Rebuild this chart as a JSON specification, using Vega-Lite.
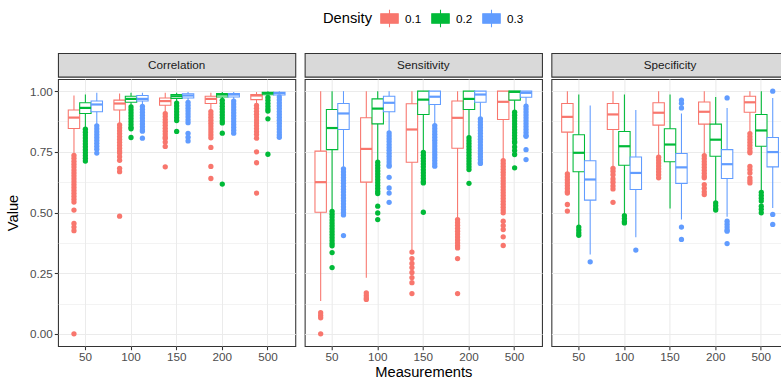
{
"$schema": "https://vega.github.io/schema/vega-lite/v6.json",
"padding": {"left": 5, "top": 8, "right": 0, "bottom": 0},
"config": {
  "font": "Liberation Sans",
  "view": {"stroke": "#333333", "strokeWidth": 1.07},
  "axis": {"domain": false, "grid": true, "gridColor": "#ebebeb", "gridWidth": 1.07, "tickColor": "#333333", "tickSize": 3.7, "tickWidth": 1.07, "labelColor": "#4d4d4d", "labelFontSize": 11.7, "labelPadding": 2, "titleFontSize": 14.7, "titleFontWeight": "normal", "titleColor": "#000000", "labelFont": "Liberation Sans", "titleFont": "Liberation Sans"},
  "axisX": {"bandPosition": 0.5, "labelAngle": 0, "titlePadding": 1},
  "axisY": {"titlePadding": 9}
},
"datasets": {
"corrBox": [
{"Measurements":50,"Density":0.1,"lo":0.746,"q1":0.846,"median":0.891,"q3":0.922,"hi":0.982},
{"Measurements":50,"Density":0.2,"lo":0.849,"q1":0.908,"median":0.931,"q3":0.952,"hi":0.986},
{"Measurements":50,"Density":0.3,"lo":0.862,"q1":0.915,"median":0.945,"q3":0.959,"hi":0.993},
{"Measurements":100,"Density":0.1,"lo":0.865,"q1":0.922,"median":0.949,"q3":0.963,"hi":0.99},
{"Measurements":100,"Density":0.2,"lo":0.938,"q1":0.954,"median":0.968,"q3":0.979,"hi":0.993},
{"Measurements":100,"Density":0.3,"lo":0.945,"q1":0.959,"median":0.968,"q3":0.982,"hi":0.993},
{"Measurements":150,"Density":0.1,"lo":0.911,"q1":0.942,"median":0.959,"q3":0.972,"hi":0.993},
{"Measurements":150,"Density":0.2,"lo":0.954,"q1":0.97,"median":0.979,"q3":0.986,"hi":0.993},
{"Measurements":150,"Density":0.3,"lo":0.957,"q1":0.972,"median":0.982,"q3":0.989,"hi":0.996},
{"Measurements":200,"Density":0.1,"lo":0.92,"q1":0.949,"median":0.968,"q3":0.979,"hi":0.993},
{"Measurements":200,"Density":0.2,"lo":0.965,"q1":0.976,"median":0.986,"q3":0.99,"hi":0.996},
{"Measurements":200,"Density":0.3,"lo":0.965,"q1":0.976,"median":0.986,"q3":0.99,"hi":0.996},
{"Measurements":500,"Density":0.1,"lo":0.945,"q1":0.965,"median":0.982,"q3":0.986,"hi":0.996},
{"Measurements":500,"Density":0.2,"lo":0.976,"q1":0.985,"median":0.992,"q3":0.995,"hi":1.0},
{"Measurements":500,"Density":0.3,"lo":0.979,"q1":0.984,"median":0.992,"q3":0.995,"hi":1.0}
],
"sensBox": [
{"Measurements":50,"Density":0.1,"lo":0.135,"q1":0.501,"median":0.625,"q3":0.753,"hi":1.0},
{"Measurements":50,"Density":0.2,"lo":0.512,"q1":0.759,"median":0.848,"q3":0.924,"hi":1.0},
{"Measurements":50,"Density":0.3,"lo":0.688,"q1":0.842,"median":0.908,"q3":0.949,"hi":1.0},
{"Measurements":100,"Density":0.1,"lo":0.231,"q1":0.625,"median":0.762,"q3":0.89,"hi":1.0},
{"Measurements":100,"Density":0.2,"lo":0.712,"q1":0.865,"median":0.928,"q3":0.968,"hi":1.0},
{"Measurements":100,"Density":0.3,"lo":0.831,"q1":0.915,"median":0.952,"q3":0.979,"hi":1.0},
{"Measurements":150,"Density":0.1,"lo":0.345,"q1":0.707,"median":0.842,"q3":0.948,"hi":1.0},
{"Measurements":150,"Density":0.2,"lo":0.753,"q1":0.904,"median":0.965,"q3":1.0,"hi":1.0},
{"Measurements":150,"Density":0.3,"lo":0.863,"q1":0.945,"median":0.977,"q3":1.0,"hi":1.0},
{"Measurements":200,"Density":0.1,"lo":0.478,"q1":0.765,"median":0.89,"q3":0.959,"hi":1.0},
{"Measurements":200,"Density":0.2,"lo":0.812,"q1":0.924,"median":0.968,"q3":1.0,"hi":1.0},
{"Measurements":200,"Density":0.3,"lo":0.89,"q1":0.954,"median":0.986,"q3":1.0,"hi":1.0},
{"Measurements":500,"Density":0.1,"lo":0.718,"q1":0.883,"median":0.956,"q3":1.0,"hi":1.0},
{"Measurements":500,"Density":0.2,"lo":0.917,"q1":0.963,"median":0.997,"q3":1.0,"hi":1.0},
{"Measurements":500,"Density":0.3,"lo":0.941,"q1":0.975,"median":0.993,"q3":1.0,"hi":1.0}
],
"specBox": [
{"Measurements":50,"Density":0.1,"lo":0.663,"q1":0.831,"median":0.894,"q3":0.949,"hi":1.0},
{"Measurements":50,"Density":0.2,"lo":0.444,"q1":0.668,"median":0.746,"q3":0.82,"hi":0.986},
{"Measurements":50,"Density":0.3,"lo":0.327,"q1":0.551,"median":0.636,"q3":0.713,"hi":0.941},
{"Measurements":100,"Density":0.1,"lo":0.686,"q1":0.842,"median":0.904,"q3":0.949,"hi":1.0},
{"Measurements":100,"Density":0.2,"lo":0.492,"q1":0.695,"median":0.773,"q3":0.834,"hi":0.986},
{"Measurements":100,"Density":0.3,"lo":0.398,"q1":0.595,"median":0.663,"q3":0.729,"hi":0.922},
{"Measurements":150,"Density":0.1,"lo":0.732,"q1":0.86,"median":0.911,"q3":0.952,"hi":1.0},
{"Measurements":150,"Density":0.2,"lo":0.516,"q1":0.709,"median":0.78,"q3":0.845,"hi":0.986},
{"Measurements":150,"Density":0.3,"lo":0.471,"q1":0.62,"median":0.686,"q3":0.743,"hi":0.908},
{"Measurements":200,"Density":0.1,"lo":0.737,"q1":0.864,"median":0.915,"q3":0.955,"hi":1.0},
{"Measurements":200,"Density":0.2,"lo":0.542,"q1":0.732,"median":0.8,"q3":0.864,"hi":0.976},
{"Measurements":200,"Density":0.3,"lo":0.482,"q1":0.64,"median":0.699,"q3":0.759,"hi":0.931},
{"Measurements":500,"Density":0.1,"lo":0.828,"q1":0.913,"median":0.954,"q3":0.979,"hi":1.0},
{"Measurements":500,"Density":0.2,"lo":0.588,"q1":0.773,"median":0.838,"q3":0.904,"hi":1.0},
{"Measurements":500,"Density":0.3,"lo":0.519,"q1":0.688,"median":0.749,"q3":0.809,"hi":0.972}
],
"corrOut": [
{"Measurements":50,"Density":0.1,"Value":0.735},{"Measurements":50,"Density":0.1,"Value":0.723},{"Measurements":50,"Density":0.1,"Value":0.711},{"Measurements":50,"Density":0.1,"Value":0.699},{"Measurements":50,"Density":0.1,"Value":0.687},{"Measurements":50,"Density":0.1,"Value":0.675},{"Measurements":50,"Density":0.1,"Value":0.663},{"Measurements":50,"Density":0.1,"Value":0.651},{"Measurements":50,"Density":0.1,"Value":0.639},{"Measurements":50,"Density":0.1,"Value":0.627},{"Measurements":50,"Density":0.1,"Value":0.615},{"Measurements":50,"Density":0.1,"Value":0.603},{"Measurements":50,"Density":0.1,"Value":0.591},{"Measurements":50,"Density":0.1,"Value":0.579},{"Measurements":50,"Density":0.1,"Value":0.567},{"Measurements":50,"Density":0.1,"Value":0.555},{"Measurements":50,"Density":0.1,"Value":0.543},{"Measurements":50,"Density":0.1,"Value":0.51},{"Measurements":50,"Density":0.1,"Value":0.455},{"Measurements":50,"Density":0.1,"Value":0.44},{"Measurements":50,"Density":0.1,"Value":0.425},{"Measurements":50,"Density":0.1,"Value":0.0},
{"Measurements":50,"Density":0.2,"Value":0.843},{"Measurements":50,"Density":0.2,"Value":0.831},{"Measurements":50,"Density":0.2,"Value":0.819},{"Measurements":50,"Density":0.2,"Value":0.807},{"Measurements":50,"Density":0.2,"Value":0.795},{"Measurements":50,"Density":0.2,"Value":0.783},{"Measurements":50,"Density":0.2,"Value":0.771},{"Measurements":50,"Density":0.2,"Value":0.759},{"Measurements":50,"Density":0.2,"Value":0.747},{"Measurements":50,"Density":0.2,"Value":0.735},{"Measurements":50,"Density":0.2,"Value":0.723},{"Measurements":50,"Density":0.2,"Value":0.712},
{"Measurements":50,"Density":0.3,"Value":0.857},{"Measurements":50,"Density":0.3,"Value":0.845},{"Measurements":50,"Density":0.3,"Value":0.833},{"Measurements":50,"Density":0.3,"Value":0.821},{"Measurements":50,"Density":0.3,"Value":0.809},{"Measurements":50,"Density":0.3,"Value":0.797},{"Measurements":50,"Density":0.3,"Value":0.785},{"Measurements":50,"Density":0.3,"Value":0.773},{"Measurements":50,"Density":0.3,"Value":0.761},{"Measurements":50,"Density":0.3,"Value":0.745},
{"Measurements":100,"Density":0.1,"Value":0.861},{"Measurements":100,"Density":0.1,"Value":0.849},{"Measurements":100,"Density":0.1,"Value":0.837},{"Measurements":100,"Density":0.1,"Value":0.825},{"Measurements":100,"Density":0.1,"Value":0.813},{"Measurements":100,"Density":0.1,"Value":0.801},{"Measurements":100,"Density":0.1,"Value":0.789},{"Measurements":100,"Density":0.1,"Value":0.777},{"Measurements":100,"Density":0.1,"Value":0.765},{"Measurements":100,"Density":0.1,"Value":0.753},{"Measurements":100,"Density":0.1,"Value":0.745},{"Measurements":100,"Density":0.1,"Value":0.73},{"Measurements":100,"Density":0.1,"Value":0.715},{"Measurements":100,"Density":0.1,"Value":0.682},{"Measurements":100,"Density":0.1,"Value":0.668},{"Measurements":100,"Density":0.1,"Value":0.485},
{"Measurements":100,"Density":0.2,"Value":0.935},{"Measurements":100,"Density":0.2,"Value":0.923},{"Measurements":100,"Density":0.2,"Value":0.911},{"Measurements":100,"Density":0.2,"Value":0.899},{"Measurements":100,"Density":0.2,"Value":0.887},{"Measurements":100,"Density":0.2,"Value":0.875},{"Measurements":100,"Density":0.2,"Value":0.863},{"Measurements":100,"Density":0.2,"Value":0.851},{"Measurements":100,"Density":0.2,"Value":0.845},{"Measurements":100,"Density":0.2,"Value":0.809},
{"Measurements":100,"Density":0.3,"Value":0.937},{"Measurements":100,"Density":0.3,"Value":0.925},{"Measurements":100,"Density":0.3,"Value":0.913},{"Measurements":100,"Density":0.3,"Value":0.901},{"Measurements":100,"Density":0.3,"Value":0.889},{"Measurements":100,"Density":0.3,"Value":0.877},{"Measurements":100,"Density":0.3,"Value":0.865},{"Measurements":100,"Density":0.3,"Value":0.853},{"Measurements":100,"Density":0.3,"Value":0.841},{"Measurements":100,"Density":0.3,"Value":0.835},{"Measurements":100,"Density":0.3,"Value":0.806},
{"Measurements":150,"Density":0.1,"Value":0.907},{"Measurements":150,"Density":0.1,"Value":0.895},{"Measurements":150,"Density":0.1,"Value":0.883},{"Measurements":150,"Density":0.1,"Value":0.871},{"Measurements":150,"Density":0.1,"Value":0.859},{"Measurements":150,"Density":0.1,"Value":0.847},{"Measurements":150,"Density":0.1,"Value":0.835},{"Measurements":150,"Density":0.1,"Value":0.823},{"Measurements":150,"Density":0.1,"Value":0.811},{"Measurements":150,"Density":0.1,"Value":0.805},{"Measurements":150,"Density":0.1,"Value":0.79},{"Measurements":150,"Density":0.1,"Value":0.772},{"Measurements":150,"Density":0.1,"Value":0.688},
{"Measurements":150,"Density":0.2,"Value":0.951},{"Measurements":150,"Density":0.2,"Value":0.939},{"Measurements":150,"Density":0.2,"Value":0.927},{"Measurements":150,"Density":0.2,"Value":0.915},{"Measurements":150,"Density":0.2,"Value":0.903},{"Measurements":150,"Density":0.2,"Value":0.891},{"Measurements":150,"Density":0.2,"Value":0.879},{"Measurements":150,"Density":0.2,"Value":0.834},
{"Measurements":150,"Density":0.3,"Value":0.954},{"Measurements":150,"Density":0.3,"Value":0.942},{"Measurements":150,"Density":0.3,"Value":0.93},{"Measurements":150,"Density":0.3,"Value":0.918},{"Measurements":150,"Density":0.3,"Value":0.906},{"Measurements":150,"Density":0.3,"Value":0.894},{"Measurements":150,"Density":0.3,"Value":0.882},{"Measurements":150,"Density":0.3,"Value":0.87},{"Measurements":150,"Density":0.3,"Value":0.826},{"Measurements":150,"Density":0.3,"Value":0.81},{"Measurements":150,"Density":0.3,"Value":0.795},
{"Measurements":200,"Density":0.1,"Value":0.916},{"Measurements":200,"Density":0.1,"Value":0.904},{"Measurements":200,"Density":0.1,"Value":0.892},{"Measurements":200,"Density":0.1,"Value":0.88},{"Measurements":200,"Density":0.1,"Value":0.868},{"Measurements":200,"Density":0.1,"Value":0.856},{"Measurements":200,"Density":0.1,"Value":0.844},{"Measurements":200,"Density":0.1,"Value":0.832},{"Measurements":200,"Density":0.1,"Value":0.82},{"Measurements":200,"Density":0.1,"Value":0.808},{"Measurements":200,"Density":0.1,"Value":0.768},{"Measurements":200,"Density":0.1,"Value":0.69},{"Measurements":200,"Density":0.1,"Value":0.64},
{"Measurements":200,"Density":0.2,"Value":0.962},{"Measurements":200,"Density":0.2,"Value":0.95},{"Measurements":200,"Density":0.2,"Value":0.938},{"Measurements":200,"Density":0.2,"Value":0.926},{"Measurements":200,"Density":0.2,"Value":0.914},{"Measurements":200,"Density":0.2,"Value":0.902},{"Measurements":200,"Density":0.2,"Value":0.89},{"Measurements":200,"Density":0.2,"Value":0.878},{"Measurements":200,"Density":0.2,"Value":0.869},{"Measurements":200,"Density":0.2,"Value":0.827},{"Measurements":200,"Density":0.2,"Value":0.617},
{"Measurements":200,"Density":0.3,"Value":0.959},{"Measurements":200,"Density":0.3,"Value":0.947},{"Measurements":200,"Density":0.3,"Value":0.935},{"Measurements":200,"Density":0.3,"Value":0.923},{"Measurements":200,"Density":0.3,"Value":0.911},{"Measurements":200,"Density":0.3,"Value":0.899},{"Measurements":200,"Density":0.3,"Value":0.887},{"Measurements":200,"Density":0.3,"Value":0.875},{"Measurements":200,"Density":0.3,"Value":0.863},{"Measurements":200,"Density":0.3,"Value":0.851},{"Measurements":200,"Density":0.3,"Value":0.839},{"Measurements":200,"Density":0.3,"Value":0.827},
{"Measurements":500,"Density":0.1,"Value":0.941},{"Measurements":500,"Density":0.1,"Value":0.929},{"Measurements":500,"Density":0.1,"Value":0.917},{"Measurements":500,"Density":0.1,"Value":0.905},{"Measurements":500,"Density":0.1,"Value":0.893},{"Measurements":500,"Density":0.1,"Value":0.881},{"Measurements":500,"Density":0.1,"Value":0.869},{"Measurements":500,"Density":0.1,"Value":0.857},{"Measurements":500,"Density":0.1,"Value":0.845},{"Measurements":500,"Density":0.1,"Value":0.833},{"Measurements":500,"Density":0.1,"Value":0.821},{"Measurements":500,"Density":0.1,"Value":0.806},{"Measurements":500,"Density":0.1,"Value":0.75},{"Measurements":500,"Density":0.1,"Value":0.705},{"Measurements":500,"Density":0.1,"Value":0.58},
{"Measurements":500,"Density":0.2,"Value":0.974},{"Measurements":500,"Density":0.2,"Value":0.962},{"Measurements":500,"Density":0.2,"Value":0.95},{"Measurements":500,"Density":0.2,"Value":0.938},{"Measurements":500,"Density":0.2,"Value":0.926},{"Measurements":500,"Density":0.2,"Value":0.918},{"Measurements":500,"Density":0.2,"Value":0.886},{"Measurements":500,"Density":0.2,"Value":0.74},
{"Measurements":500,"Density":0.3,"Value":0.976},{"Measurements":500,"Density":0.3,"Value":0.964},{"Measurements":500,"Density":0.3,"Value":0.952},{"Measurements":500,"Density":0.3,"Value":0.94},{"Measurements":500,"Density":0.3,"Value":0.928},{"Measurements":500,"Density":0.3,"Value":0.916},{"Measurements":500,"Density":0.3,"Value":0.904},{"Measurements":500,"Density":0.3,"Value":0.892},{"Measurements":500,"Density":0.3,"Value":0.88},{"Measurements":500,"Density":0.3,"Value":0.868},{"Measurements":500,"Density":0.3,"Value":0.856},{"Measurements":500,"Density":0.3,"Value":0.844},{"Measurements":500,"Density":0.3,"Value":0.832},{"Measurements":500,"Density":0.3,"Value":0.82},{"Measurements":500,"Density":0.3,"Value":0.81}
],
"sensOut": [
{"Measurements":50,"Density":0.1,"Value":0.087},{"Measurements":50,"Density":0.1,"Value":0.076},{"Measurements":50,"Density":0.1,"Value":0.066},{"Measurements":50,"Density":0.1,"Value":0.0},
{"Measurements":50,"Density":0.2,"Value":0.505},{"Measurements":50,"Density":0.2,"Value":0.493},{"Measurements":50,"Density":0.2,"Value":0.481},{"Measurements":50,"Density":0.2,"Value":0.469},{"Measurements":50,"Density":0.2,"Value":0.457},{"Measurements":50,"Density":0.2,"Value":0.445},{"Measurements":50,"Density":0.2,"Value":0.433},{"Measurements":50,"Density":0.2,"Value":0.421},{"Measurements":50,"Density":0.2,"Value":0.409},{"Measurements":50,"Density":0.2,"Value":0.397},{"Measurements":50,"Density":0.2,"Value":0.385},{"Measurements":50,"Density":0.2,"Value":0.373},{"Measurements":50,"Density":0.2,"Value":0.363},{"Measurements":50,"Density":0.2,"Value":0.335},{"Measurements":50,"Density":0.2,"Value":0.273},
{"Measurements":50,"Density":0.3,"Value":0.68},{"Measurements":50,"Density":0.3,"Value":0.668},{"Measurements":50,"Density":0.3,"Value":0.656},{"Measurements":50,"Density":0.3,"Value":0.644},{"Measurements":50,"Density":0.3,"Value":0.632},{"Measurements":50,"Density":0.3,"Value":0.62},{"Measurements":50,"Density":0.3,"Value":0.608},{"Measurements":50,"Density":0.3,"Value":0.596},{"Measurements":50,"Density":0.3,"Value":0.584},{"Measurements":50,"Density":0.3,"Value":0.572},{"Measurements":50,"Density":0.3,"Value":0.56},{"Measurements":50,"Density":0.3,"Value":0.548},{"Measurements":50,"Density":0.3,"Value":0.536},{"Measurements":50,"Density":0.3,"Value":0.524},{"Measurements":50,"Density":0.3,"Value":0.512},{"Measurements":50,"Density":0.3,"Value":0.5},{"Measurements":50,"Density":0.3,"Value":0.49},{"Measurements":50,"Density":0.3,"Value":0.405},
{"Measurements":100,"Density":0.1,"Value":0.169},{"Measurements":100,"Density":0.1,"Value":0.158},{"Measurements":100,"Density":0.1,"Value":0.148},{"Measurements":100,"Density":0.1,"Value":0.142},
{"Measurements":100,"Density":0.2,"Value":0.707},{"Measurements":100,"Density":0.2,"Value":0.695},{"Measurements":100,"Density":0.2,"Value":0.683},{"Measurements":100,"Density":0.2,"Value":0.671},{"Measurements":100,"Density":0.2,"Value":0.659},{"Measurements":100,"Density":0.2,"Value":0.647},{"Measurements":100,"Density":0.2,"Value":0.635},{"Measurements":100,"Density":0.2,"Value":0.623},{"Measurements":100,"Density":0.2,"Value":0.611},{"Measurements":100,"Density":0.2,"Value":0.599},{"Measurements":100,"Density":0.2,"Value":0.587},{"Measurements":100,"Density":0.2,"Value":0.578},{"Measurements":100,"Density":0.2,"Value":0.526},{"Measurements":100,"Density":0.2,"Value":0.498},{"Measurements":100,"Density":0.2,"Value":0.471},
{"Measurements":100,"Density":0.3,"Value":0.828},{"Measurements":100,"Density":0.3,"Value":0.816},{"Measurements":100,"Density":0.3,"Value":0.804},{"Measurements":100,"Density":0.3,"Value":0.792},{"Measurements":100,"Density":0.3,"Value":0.78},{"Measurements":100,"Density":0.3,"Value":0.768},{"Measurements":100,"Density":0.3,"Value":0.756},{"Measurements":100,"Density":0.3,"Value":0.744},{"Measurements":100,"Density":0.3,"Value":0.732},{"Measurements":100,"Density":0.3,"Value":0.72},{"Measurements":100,"Density":0.3,"Value":0.708},{"Measurements":100,"Density":0.3,"Value":0.696},{"Measurements":100,"Density":0.3,"Value":0.691},{"Measurements":100,"Density":0.3,"Value":0.645},{"Measurements":100,"Density":0.3,"Value":0.601},{"Measurements":100,"Density":0.3,"Value":0.58},{"Measurements":100,"Density":0.3,"Value":0.542},
{"Measurements":150,"Density":0.1,"Value":0.337},{"Measurements":150,"Density":0.1,"Value":0.31},{"Measurements":150,"Density":0.1,"Value":0.29},{"Measurements":150,"Density":0.1,"Value":0.273},{"Measurements":150,"Density":0.1,"Value":0.253},{"Measurements":150,"Density":0.1,"Value":0.232},{"Measurements":150,"Density":0.1,"Value":0.211},{"Measurements":150,"Density":0.1,"Value":0.166},
{"Measurements":150,"Density":0.2,"Value":0.748},{"Measurements":150,"Density":0.2,"Value":0.736},{"Measurements":150,"Density":0.2,"Value":0.724},{"Measurements":150,"Density":0.2,"Value":0.712},{"Measurements":150,"Density":0.2,"Value":0.7},{"Measurements":150,"Density":0.2,"Value":0.688},{"Measurements":150,"Density":0.2,"Value":0.676},{"Measurements":150,"Density":0.2,"Value":0.664},{"Measurements":150,"Density":0.2,"Value":0.652},{"Measurements":150,"Density":0.2,"Value":0.64},{"Measurements":150,"Density":0.2,"Value":0.628},{"Measurements":150,"Density":0.2,"Value":0.622},{"Measurements":150,"Density":0.2,"Value":0.501},
{"Measurements":150,"Density":0.3,"Value":0.858},{"Measurements":150,"Density":0.3,"Value":0.846},{"Measurements":150,"Density":0.3,"Value":0.834},{"Measurements":150,"Density":0.3,"Value":0.822},{"Measurements":150,"Density":0.3,"Value":0.81},{"Measurements":150,"Density":0.3,"Value":0.798},{"Measurements":150,"Density":0.3,"Value":0.786},{"Measurements":150,"Density":0.3,"Value":0.774},{"Measurements":150,"Density":0.3,"Value":0.762},{"Measurements":150,"Density":0.3,"Value":0.75},{"Measurements":150,"Density":0.3,"Value":0.738},{"Measurements":150,"Density":0.3,"Value":0.726},{"Measurements":150,"Density":0.3,"Value":0.714},{"Measurements":150,"Density":0.3,"Value":0.702},{"Measurements":150,"Density":0.3,"Value":0.691},
{"Measurements":200,"Density":0.1,"Value":0.471},{"Measurements":200,"Density":0.1,"Value":0.459},{"Measurements":200,"Density":0.1,"Value":0.447},{"Measurements":200,"Density":0.1,"Value":0.435},{"Measurements":200,"Density":0.1,"Value":0.423},{"Measurements":200,"Density":0.1,"Value":0.411},{"Measurements":200,"Density":0.1,"Value":0.399},{"Measurements":200,"Density":0.1,"Value":0.387},{"Measurements":200,"Density":0.1,"Value":0.375},{"Measurements":200,"Density":0.1,"Value":0.363},{"Measurements":200,"Density":0.1,"Value":0.354},{"Measurements":200,"Density":0.1,"Value":0.31},{"Measurements":200,"Density":0.1,"Value":0.166},
{"Measurements":200,"Density":0.2,"Value":0.808},{"Measurements":200,"Density":0.2,"Value":0.796},{"Measurements":200,"Density":0.2,"Value":0.784},{"Measurements":200,"Density":0.2,"Value":0.772},{"Measurements":200,"Density":0.2,"Value":0.76},{"Measurements":200,"Density":0.2,"Value":0.748},{"Measurements":200,"Density":0.2,"Value":0.736},{"Measurements":200,"Density":0.2,"Value":0.724},{"Measurements":200,"Density":0.2,"Value":0.712},{"Measurements":200,"Density":0.2,"Value":0.7},{"Measurements":200,"Density":0.2,"Value":0.688},{"Measurements":200,"Density":0.2,"Value":0.677},{"Measurements":200,"Density":0.2,"Value":0.62},
{"Measurements":200,"Density":0.3,"Value":0.886},{"Measurements":200,"Density":0.3,"Value":0.874},{"Measurements":200,"Density":0.3,"Value":0.862},{"Measurements":200,"Density":0.3,"Value":0.85},{"Measurements":200,"Density":0.3,"Value":0.838},{"Measurements":200,"Density":0.3,"Value":0.826},{"Measurements":200,"Density":0.3,"Value":0.814},{"Measurements":200,"Density":0.3,"Value":0.802},{"Measurements":200,"Density":0.3,"Value":0.79},{"Measurements":200,"Density":0.3,"Value":0.778},{"Measurements":200,"Density":0.3,"Value":0.766},{"Measurements":200,"Density":0.3,"Value":0.754},{"Measurements":200,"Density":0.3,"Value":0.742},{"Measurements":200,"Density":0.3,"Value":0.73},{"Measurements":200,"Density":0.3,"Value":0.718},{"Measurements":200,"Density":0.3,"Value":0.706},{"Measurements":200,"Density":0.3,"Value":0.702},
{"Measurements":500,"Density":0.1,"Value":0.714},{"Measurements":500,"Density":0.1,"Value":0.702},{"Measurements":500,"Density":0.1,"Value":0.69},{"Measurements":500,"Density":0.1,"Value":0.678},{"Measurements":500,"Density":0.1,"Value":0.666},{"Measurements":500,"Density":0.1,"Value":0.654},{"Measurements":500,"Density":0.1,"Value":0.642},{"Measurements":500,"Density":0.1,"Value":0.63},{"Measurements":500,"Density":0.1,"Value":0.618},{"Measurements":500,"Density":0.1,"Value":0.606},{"Measurements":500,"Density":0.1,"Value":0.594},{"Measurements":500,"Density":0.1,"Value":0.582},{"Measurements":500,"Density":0.1,"Value":0.57},{"Measurements":500,"Density":0.1,"Value":0.558},{"Measurements":500,"Density":0.1,"Value":0.546},{"Measurements":500,"Density":0.1,"Value":0.534},{"Measurements":500,"Density":0.1,"Value":0.522},{"Measurements":500,"Density":0.1,"Value":0.51},{"Measurements":500,"Density":0.1,"Value":0.499},{"Measurements":500,"Density":0.1,"Value":0.464},{"Measurements":500,"Density":0.1,"Value":0.446},{"Measurements":500,"Density":0.1,"Value":0.43},{"Measurements":500,"Density":0.1,"Value":0.4},{"Measurements":500,"Density":0.1,"Value":0.364},
{"Measurements":500,"Density":0.2,"Value":0.913},{"Measurements":500,"Density":0.2,"Value":0.901},{"Measurements":500,"Density":0.2,"Value":0.889},{"Measurements":500,"Density":0.2,"Value":0.877},{"Measurements":500,"Density":0.2,"Value":0.865},{"Measurements":500,"Density":0.2,"Value":0.853},{"Measurements":500,"Density":0.2,"Value":0.841},{"Measurements":500,"Density":0.2,"Value":0.829},{"Measurements":500,"Density":0.2,"Value":0.817},{"Measurements":500,"Density":0.2,"Value":0.805},{"Measurements":500,"Density":0.2,"Value":0.793},{"Measurements":500,"Density":0.2,"Value":0.787},{"Measurements":500,"Density":0.2,"Value":0.77},{"Measurements":500,"Density":0.2,"Value":0.755},{"Measurements":500,"Density":0.2,"Value":0.739},{"Measurements":500,"Density":0.2,"Value":0.684},
{"Measurements":500,"Density":0.3,"Value":0.938},{"Measurements":500,"Density":0.3,"Value":0.926},{"Measurements":500,"Density":0.3,"Value":0.914},{"Measurements":500,"Density":0.3,"Value":0.902},{"Measurements":500,"Density":0.3,"Value":0.89},{"Measurements":500,"Density":0.3,"Value":0.878},{"Measurements":500,"Density":0.3,"Value":0.866},{"Measurements":500,"Density":0.3,"Value":0.854},{"Measurements":500,"Density":0.3,"Value":0.842},{"Measurements":500,"Density":0.3,"Value":0.83},{"Measurements":500,"Density":0.3,"Value":0.818},{"Measurements":500,"Density":0.3,"Value":0.814},{"Measurements":500,"Density":0.3,"Value":0.759},{"Measurements":500,"Density":0.3,"Value":0.718}
],
"specOut": [
{"Measurements":50,"Density":0.1,"Value":0.659},{"Measurements":50,"Density":0.1,"Value":0.647},{"Measurements":50,"Density":0.1,"Value":0.635},{"Measurements":50,"Density":0.1,"Value":0.623},{"Measurements":50,"Density":0.1,"Value":0.611},{"Measurements":50,"Density":0.1,"Value":0.599},{"Measurements":50,"Density":0.1,"Value":0.587},{"Measurements":50,"Density":0.1,"Value":0.58},{"Measurements":50,"Density":0.1,"Value":0.533},{"Measurements":50,"Density":0.1,"Value":0.506},
{"Measurements":50,"Density":0.2,"Value":0.44},{"Measurements":50,"Density":0.2,"Value":0.428},{"Measurements":50,"Density":0.2,"Value":0.416},{"Measurements":50,"Density":0.2,"Value":0.406},
{"Measurements":50,"Density":0.3,"Value":0.297},
{"Measurements":100,"Density":0.1,"Value":0.682},{"Measurements":100,"Density":0.1,"Value":0.67},{"Measurements":100,"Density":0.1,"Value":0.656},{"Measurements":100,"Density":0.1,"Value":0.638},{"Measurements":100,"Density":0.1,"Value":0.625},{"Measurements":100,"Density":0.1,"Value":0.61},{"Measurements":100,"Density":0.1,"Value":0.597},{"Measurements":100,"Density":0.1,"Value":0.542},
{"Measurements":100,"Density":0.2,"Value":0.487},{"Measurements":100,"Density":0.2,"Value":0.475},{"Measurements":100,"Density":0.2,"Value":0.463},{"Measurements":100,"Density":0.2,"Value":0.457},
{"Measurements":100,"Density":0.3,"Value":0.345},
{"Measurements":150,"Density":0.1,"Value":0.728},{"Measurements":150,"Density":0.1,"Value":0.716},{"Measurements":150,"Density":0.1,"Value":0.704},{"Measurements":150,"Density":0.1,"Value":0.692},{"Measurements":150,"Density":0.1,"Value":0.68},{"Measurements":150,"Density":0.1,"Value":0.668},{"Measurements":150,"Density":0.1,"Value":0.656},{"Measurements":150,"Density":0.1,"Value":0.643},
{"Measurements":150,"Density":0.3,"Value":0.963},{"Measurements":150,"Density":0.3,"Value":0.95},{"Measurements":150,"Density":0.3,"Value":0.931},{"Measurements":150,"Density":0.3,"Value":0.44},{"Measurements":150,"Density":0.3,"Value":0.389},
{"Measurements":200,"Density":0.1,"Value":0.734},{"Measurements":200,"Density":0.1,"Value":0.722},{"Measurements":200,"Density":0.1,"Value":0.71},{"Measurements":200,"Density":0.1,"Value":0.698},{"Measurements":200,"Density":0.1,"Value":0.686},{"Measurements":200,"Density":0.1,"Value":0.674},{"Measurements":200,"Density":0.1,"Value":0.662},{"Measurements":200,"Density":0.1,"Value":0.65},{"Measurements":200,"Density":0.1,"Value":0.643},{"Measurements":200,"Density":0.1,"Value":0.615},{"Measurements":200,"Density":0.1,"Value":0.6},{"Measurements":200,"Density":0.1,"Value":0.585},{"Measurements":200,"Density":0.1,"Value":0.574},
{"Measurements":200,"Density":0.2,"Value":0.54},{"Measurements":200,"Density":0.2,"Value":0.528},{"Measurements":200,"Density":0.2,"Value":0.516},{"Measurements":200,"Density":0.2,"Value":0.51},
{"Measurements":200,"Density":0.3,"Value":0.972},{"Measurements":200,"Density":0.3,"Value":0.464},{"Measurements":200,"Density":0.3,"Value":0.452},{"Measurements":200,"Density":0.3,"Value":0.44},{"Measurements":200,"Density":0.3,"Value":0.428},{"Measurements":200,"Density":0.3,"Value":0.423},{"Measurements":200,"Density":0.3,"Value":0.372},
{"Measurements":500,"Density":0.1,"Value":0.825},{"Measurements":500,"Density":0.1,"Value":0.813},{"Measurements":500,"Density":0.1,"Value":0.801},{"Measurements":500,"Density":0.1,"Value":0.789},{"Measurements":500,"Density":0.1,"Value":0.777},{"Measurements":500,"Density":0.1,"Value":0.765},{"Measurements":500,"Density":0.1,"Value":0.753},{"Measurements":500,"Density":0.1,"Value":0.746},{"Measurements":500,"Density":0.1,"Value":0.69},{"Measurements":500,"Density":0.1,"Value":0.677},{"Measurements":500,"Density":0.1,"Value":0.663},{"Measurements":500,"Density":0.1,"Value":0.643},{"Measurements":500,"Density":0.1,"Value":0.632},{"Measurements":500,"Density":0.1,"Value":0.622},
{"Measurements":500,"Density":0.2,"Value":0.583},{"Measurements":500,"Density":0.2,"Value":0.571},{"Measurements":500,"Density":0.2,"Value":0.559},{"Measurements":500,"Density":0.2,"Value":0.547},{"Measurements":500,"Density":0.2,"Value":0.526},{"Measurements":500,"Density":0.2,"Value":0.513},{"Measurements":500,"Density":0.2,"Value":0.499},
{"Measurements":500,"Density":0.3,"Value":1.0},{"Measurements":500,"Density":0.3,"Value":0.492},{"Measurements":500,"Density":0.3,"Value":0.451}
]
},
"spacing": 7.7,
"hconcat": [
 {"spacing": 0, "vconcat": [
  {"width": 237.3, "height": 23.7, "view": {"fill": "#d9d9d9", "stroke": "#333333", "strokeWidth": 1.07},
   "data": {"values": [{"Metric": "Correlation"}]},
   "mark": {"type": "text", "fontSize": 11.7, "color": "#1a1a1a"},
   "encoding": {"text": {"field": "Metric"}}},
  {"width": 237.3, "height": 267,
   "encoding": {
    "x": {"field": "Measurements", "type": "ordinal", "scale": {"domain": [50,100,150,200,500], "paddingInner": 0, "paddingOuter": 0.1}, "axis": {"title": null, "grid": true}},
    "xOffset": {"field": "Density", "type": "nominal", "scale": {"domain": [0.1,0.2,0.3], "paddingInner": 0, "paddingOuter": 0.5}},
    "color": {"field": "Density", "type": "nominal", "scale": {"domain": [0.1,0.2,0.3], "range": ["#F8766D","#00BA38","#619CFF"]},
      "legend": {"orient": "none", "legendX": 265, "legendY": -44.3, "direction": "horizontal", "title": "Density", "titleOrient": "left", "titleFontSize": 14.7, "titleFontWeight": "normal", "titleColor": "#000000", "titlePadding": 8, "labelFontSize": 11.7, "labelColor": "#000000", "labelOffset": 6, "columnPadding": 7, "symbolType": "M0,-1V-0.55M-1,-0.55H1V0.55H-1ZM-1,0H1M0,0.55V1", "symbolSize": 306, "symbolStrokeWidth": 1.07,
        "encode": {"symbols": {"update": {"fill": {"value": "transparent"}, "stroke": {"scale": "color", "field": "value"}}}}}}
   },
   "layer": [
    {"data": {"name": "corrBox"}, "mark": {"type": "rule", "strokeWidth": 1.07},
     "encoding": {"y": {"field": "lo", "type": "quantitative", "scale": {"domain": [-0.05,1.05], "nice": false, "zero": false},
       "axis": {"values": [0,0.125,0.25,0.375,0.5,0.625,0.75,0.875,1], "grid": true, "labelExpr": "datum.value % 0.25 === 0 ? format(datum.value, '.2f') : ''",
         "gridWidth": {"condition": {"test": "datum.value % 0.25 === 0", "value": 1.07}, "value": 0.6},
         "tickOpacity": {"condition": {"test": "datum.value % 0.25 === 0", "value": 1}, "value": 0},
         "title": "Value"}}, "y2": {"field": "hi"}}},
    {"data": {"name": "corrBox"}, "mark": {"type": "bar", "filled": false, "fill": "white", "strokeWidth": 1.07},
     "encoding": {"y": {"field": "q1", "type": "quantitative",
       "axis": {"values": [0,0.125,0.25,0.375,0.5,0.625,0.75,0.875,1], "grid": true, "labelExpr": "datum.value % 0.25 === 0 ? format(datum.value, '.2f') : ''",
         "gridWidth": {"condition": {"test": "datum.value % 0.25 === 0", "value": 1.07}, "value": 0.6},
         "tickOpacity": {"condition": {"test": "datum.value % 0.25 === 0", "value": 1}, "value": 0},
         "title": "Value"}}, "y2": {"field": "q3"}}},
    {"data": {"name": "corrBox"}, "mark": {"type": "tick", "orient": "horizontal", "size": 11.4, "thickness": 2.2, "opacity": 1},
     "encoding": {"y": {"field": "median", "type": "quantitative",
       "axis": {"values": [0,0.125,0.25,0.375,0.5,0.625,0.75,0.875,1], "grid": true, "labelExpr": "datum.value % 0.25 === 0 ? format(datum.value, '.2f') : ''",
         "gridWidth": {"condition": {"test": "datum.value % 0.25 === 0", "value": 1.07}, "value": 0.6},
         "tickOpacity": {"condition": {"test": "datum.value % 0.25 === 0", "value": 1}, "value": 0},
         "title": "Value"}}}},
    {"data": {"name": "corrOut"}, "mark": {"type": "circle", "size": 28, "opacity": 1},
     "encoding": {"y": {"field": "Value", "type": "quantitative",
       "axis": {"values": [0,0.125,0.25,0.375,0.5,0.625,0.75,0.875,1], "grid": true, "labelExpr": "datum.value % 0.25 === 0 ? format(datum.value, '.2f') : ''",
         "gridWidth": {"condition": {"test": "datum.value % 0.25 === 0", "value": 1.07}, "value": 0.6},
         "tickOpacity": {"condition": {"test": "datum.value % 0.25 === 0", "value": 1}, "value": 0},
         "title": "Value"}}}}
   ]}
 ]},
 {"spacing": 0, "vconcat": [
  {"width": 237.3, "height": 23.7, "view": {"fill": "#d9d9d9", "stroke": "#333333", "strokeWidth": 1.07},
   "data": {"values": [{"Metric": "Sensitivity"}]},
   "mark": {"type": "text", "fontSize": 11.7, "color": "#1a1a1a"},
   "encoding": {"text": {"field": "Metric"}}},
  {"width": 237.3, "height": 267,
   "encoding": {
    "x": {"field": "Measurements", "type": "ordinal", "scale": {"domain": [50,100,150,200,500], "paddingInner": 0, "paddingOuter": 0.1}, "axis": {"title": "Measurements", "grid": true}},
    "xOffset": {"field": "Density", "type": "nominal", "scale": {"domain": [0.1,0.2,0.3], "paddingInner": 0, "paddingOuter": 0.5}},
    "color": {"field": "Density", "type": "nominal", "scale": {"domain": [0.1,0.2,0.3], "range": ["#F8766D","#00BA38","#619CFF"]},
      "legend": {"orient": "none", "legendX": 265, "legendY": -44.3, "direction": "horizontal", "title": "Density", "titleOrient": "left", "titleFontSize": 14.7, "titleFontWeight": "normal", "titleColor": "#000000", "titlePadding": 8, "labelFontSize": 11.7, "labelColor": "#000000", "labelOffset": 6, "columnPadding": 7, "symbolType": "M0,-1V-0.55M-1,-0.55H1V0.55H-1ZM-1,0H1M0,0.55V1", "symbolSize": 306, "symbolStrokeWidth": 1.07,
        "encode": {"symbols": {"update": {"fill": {"value": "transparent"}, "stroke": {"scale": "color", "field": "value"}}}}}}
   },
   "layer": [
    {"data": {"name": "sensBox"}, "mark": {"type": "rule", "strokeWidth": 1.07},
     "encoding": {"y": {"field": "lo", "type": "quantitative", "scale": {"domain": [-0.05,1.05], "nice": false, "zero": false},
       "axis": {"values": [0,0.125,0.25,0.375,0.5,0.625,0.75,0.875,1], "grid": true, "labels": false, "ticks": false, "title": null,
         "gridWidth": {"condition": {"test": "datum.value % 0.25 === 0", "value": 1.07}, "value": 0.6}}}, "y2": {"field": "hi"}}},
    {"data": {"name": "sensBox"}, "mark": {"type": "bar", "filled": false, "fill": "white", "strokeWidth": 1.07},
     "encoding": {"y": {"field": "q1", "type": "quantitative",
       "axis": {"values": [0,0.125,0.25,0.375,0.5,0.625,0.75,0.875,1], "grid": true, "labels": false, "ticks": false, "title": null,
         "gridWidth": {"condition": {"test": "datum.value % 0.25 === 0", "value": 1.07}, "value": 0.6}}}, "y2": {"field": "q3"}}},
    {"data": {"name": "sensBox"}, "mark": {"type": "tick", "orient": "horizontal", "size": 11.4, "thickness": 2.2, "opacity": 1},
     "encoding": {"y": {"field": "median", "type": "quantitative",
       "axis": {"values": [0,0.125,0.25,0.375,0.5,0.625,0.75,0.875,1], "grid": true, "labels": false, "ticks": false, "title": null,
         "gridWidth": {"condition": {"test": "datum.value % 0.25 === 0", "value": 1.07}, "value": 0.6}}}}},
    {"data": {"name": "sensOut"}, "mark": {"type": "circle", "size": 28, "opacity": 1},
     "encoding": {"y": {"field": "Value", "type": "quantitative",
       "axis": {"values": [0,0.125,0.25,0.375,0.5,0.625,0.75,0.875,1], "grid": true, "labels": false, "ticks": false, "title": null,
         "gridWidth": {"condition": {"test": "datum.value % 0.25 === 0", "value": 1.07}, "value": 0.6}}}}}
   ]}
 ]},
 {"spacing": 0, "vconcat": [
  {"width": 237.3, "height": 23.7, "view": {"fill": "#d9d9d9", "stroke": "#333333", "strokeWidth": 1.07},
   "data": {"values": [{"Metric": "Specificity"}]},
   "mark": {"type": "text", "fontSize": 11.7, "color": "#1a1a1a"},
   "encoding": {"text": {"field": "Metric"}}},
  {"width": 237.3, "height": 267,
   "encoding": {
    "x": {"field": "Measurements", "type": "ordinal", "scale": {"domain": [50,100,150,200,500], "paddingInner": 0, "paddingOuter": 0.1}, "axis": {"title": null, "grid": true}},
    "xOffset": {"field": "Density", "type": "nominal", "scale": {"domain": [0.1,0.2,0.3], "paddingInner": 0, "paddingOuter": 0.5}},
    "color": {"field": "Density", "type": "nominal", "scale": {"domain": [0.1,0.2,0.3], "range": ["#F8766D","#00BA38","#619CFF"]},
      "legend": {"orient": "none", "legendX": 265, "legendY": -44.3, "direction": "horizontal", "title": "Density", "titleOrient": "left", "titleFontSize": 14.7, "titleFontWeight": "normal", "titleColor": "#000000", "titlePadding": 8, "labelFontSize": 11.7, "labelColor": "#000000", "labelOffset": 6, "columnPadding": 7, "symbolType": "M0,-1V-0.55M-1,-0.55H1V0.55H-1ZM-1,0H1M0,0.55V1", "symbolSize": 306, "symbolStrokeWidth": 1.07,
        "encode": {"symbols": {"update": {"fill": {"value": "transparent"}, "stroke": {"scale": "color", "field": "value"}}}}}}
   },
   "layer": [
    {"data": {"name": "specBox"}, "mark": {"type": "rule", "strokeWidth": 1.07},
     "encoding": {"y": {"field": "lo", "type": "quantitative", "scale": {"domain": [-0.05,1.05], "nice": false, "zero": false},
       "axis": {"values": [0,0.125,0.25,0.375,0.5,0.625,0.75,0.875,1], "grid": true, "labels": false, "ticks": false, "title": null,
         "gridWidth": {"condition": {"test": "datum.value % 0.25 === 0", "value": 1.07}, "value": 0.6}}}, "y2": {"field": "hi"}}},
    {"data": {"name": "specBox"}, "mark": {"type": "bar", "filled": false, "fill": "white", "strokeWidth": 1.07},
     "encoding": {"y": {"field": "q1", "type": "quantitative",
       "axis": {"values": [0,0.125,0.25,0.375,0.5,0.625,0.75,0.875,1], "grid": true, "labels": false, "ticks": false, "title": null,
         "gridWidth": {"condition": {"test": "datum.value % 0.25 === 0", "value": 1.07}, "value": 0.6}}}, "y2": {"field": "q3"}}},
    {"data": {"name": "specBox"}, "mark": {"type": "tick", "orient": "horizontal", "size": 11.4, "thickness": 2.2, "opacity": 1},
     "encoding": {"y": {"field": "median", "type": "quantitative",
       "axis": {"values": [0,0.125,0.25,0.375,0.5,0.625,0.75,0.875,1], "grid": true, "labels": false, "ticks": false, "title": null,
         "gridWidth": {"condition": {"test": "datum.value % 0.25 === 0", "value": 1.07}, "value": 0.6}}}}},
    {"data": {"name": "specOut"}, "mark": {"type": "circle", "size": 28, "opacity": 1},
     "encoding": {"y": {"field": "Value", "type": "quantitative",
       "axis": {"values": [0,0.125,0.25,0.375,0.5,0.625,0.75,0.875,1], "grid": true, "labels": false, "ticks": false, "title": null,
         "gridWidth": {"condition": {"test": "datum.value % 0.25 === 0", "value": 1.07}, "value": 0.6}}}}}
   ]}
 ]}
]
}
